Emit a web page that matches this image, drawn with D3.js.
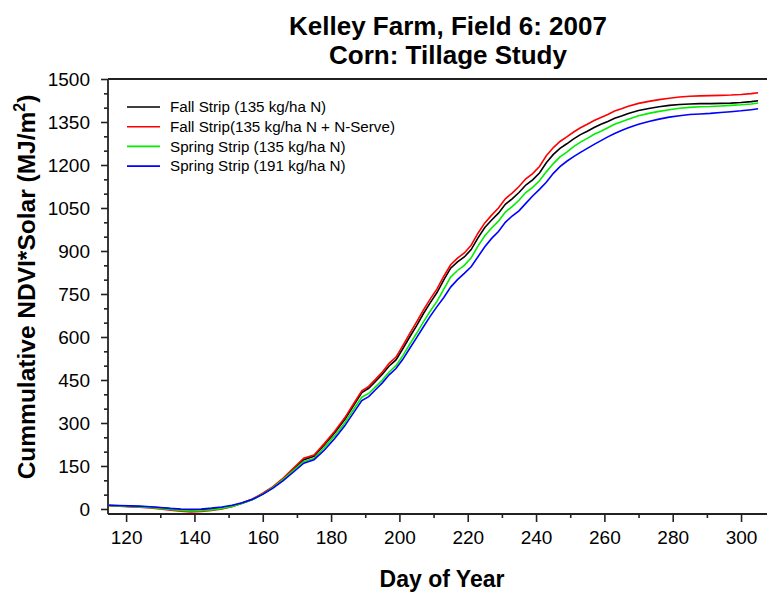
<!DOCTYPE html>
<html>
<head>
<meta charset="utf-8">
<script src="https://cdn.jsdelivr.net/npm/d3@7"></script>
<style>
  body { margin: 0; background: #fff; }
  text { font-family: "Liberation Sans", Arial, sans-serif; fill: #000; }
</style>
</head>
<body>
<div id="chart"></div>
<script>
// day of year for each reading
var days = [115,118,121,124,127,130,133,136,139,142,145,148,151,154,157,160,
	163,166,169,172,175,178,181,184,187,
	189,191,193,195,197,199,201,203,205,207,209,211,213,215,217,219,221,223,225,227,
	229,231,233,235,237,239,241,243,245,247,249,251,253,255,257,259,261,263,265,267,
	270,273,276,279,282,285,288,291,294,297,300,303,305];

var fallStrip = [12,11,9,8,7,4,1,-2,-3,-2,0,4,10,20,33,53,
	76,105,139,172,184,223,265,312,369,
	406,421,445,470,499,520,559,600,639,681,719,755,799,840,862,879,905,946,982,1008,
	1032,1063,1082,1104,1130,1148,1172,1208,1236,1258,1274,1291,1306,1318,1331,1342,1352,1363,1371,1380,
	1390,1397,1403,1408,1411,1413,1414,1414,1415,1416,1418,1421,1424];

var fallStripNServe = [12,10,8,6,4,0,-4,-8,-10,-9,-5,0,8,22,35,55,
	78,108,143,177,188,228,270,318,375,
	412,428,452,478,508,530,570,612,652,694,732,768,812,852,875,893,920,962,998,1025,
	1050,1082,1102,1125,1152,1170,1195,1232,1260,1282,1298,1315,1330,1342,1355,1366,1376,1388,1396,1405,
	1415,1422,1428,1433,1437,1440,1441,1442,1443,1444,1446,1449,1452];

var springStrip135 = [12,11,9,7,5,2,-2,-5,-7,-6,-3,2,9,20,33,52,
	75,103,135,166,176,214,255,300,355,
	390,403,426,450,478,500,535,574,612,652,690,724,767,809,832,850,876,917,953,980,
	1004,1036,1055,1077,1104,1122,1145,1176,1204,1228,1245,1264,1280,1293,1307,1318,1330,1342,1351,1360,
	1372,1380,1387,1393,1398,1401,1403,1404,1406,1408,1410,1413,1416];

var springStrip191 = [13,12,11,10,8,5,2,0,-1,0,3,7,13,22,34,51,
	73,99,129,160,172,205,245,290,343,
	378,392,416,440,468,490,522,560,597,635,672,706,738,774,800,822,845,880,915,944,
	968,1000,1022,1040,1066,1092,1115,1140,1170,1194,1213,1229,1244,1258,1272,1285,1298,1310,1320,1330,
	1342,1352,1360,1367,1372,1376,1378,1380,1383,1386,1389,1393,1396];

var seriesNames = ["Fall Strip (135 kg/ha N)", "Fall Strip(135 kg/ha N + N-Serve)",
	"Spring Strip (135 kg/ha N)", "Spring Strip (191 kg/ha N)"];
var seriesColors = ["#000000", "#ff0000", "#00ee00", "#0000ff"];
var seriesValues = [fallStrip, fallStripNServe, springStrip135, springStrip191];

var xTicks = [120,140,160,180,200,220,240,260,280,300];
var yTicks = [0,150,300,450,600,750,900,1050,1200,1350,1500];

function drawChart() {
	var W = 767, H = 592;
	var left = 108, right = 767, top = 79, bottom = 514;

	var svg = d3.select("#chart").append("svg")
				.attr("width", W)
				.attr("height", H);

	var xScale = d3.scaleLinear().domain([114.7, 307.6]).range([left, right]);
	var yScale = d3.scaleLinear().domain([-17.5, 1500]).range([bottom, top]);

	// titles
	svg.append("text").attr("x", 448).attr("y", 35)
	   .attr("text-anchor", "middle").attr("font-size", 26).attr("font-weight", "bold")
	   .text("Kelley Farm, Field 6: 2007");
	svg.append("text").attr("x", 448).attr("y", 64)
	   .attr("text-anchor", "middle").attr("font-size", 26).attr("font-weight", "bold")
	   .text("Corn: Tillage Study");

	// x axis (major + minor ticks)
	var xAxis = d3.axisBottom(xScale).tickValues(xTicks).tickSize(8).tickPadding(9)
				  .tickFormat(d3.format("d"));
	var xMinor = d3.axisBottom(xScale).tickValues(d3.range(130, 310, 20)).tickSize(4).tickFormat("");

	svg.append("g").attr("class", "axis").attr("transform", "translate(0," + bottom + ")").call(xMinor);
	var gx = svg.append("g").attr("class", "axis").attr("transform", "translate(0," + bottom + ")").call(xAxis);
	gx.selectAll("text").attr("font-size", 19).attr("font-family", "Liberation Sans, Arial, sans-serif");

	// y axis
	var yAxis = d3.axisLeft(yScale).tickValues(yTicks).tickSize(7).tickPadding(11)
				  .tickFormat(d3.format("d"));
	var yMinorVals = d3.range(50, 1500, 50).filter(function(v){ return v % 150 != 0; });
	var yMinor = d3.axisLeft(yScale).tickValues(yMinorVals).tickSize(4).tickFormat("");

	svg.append("g").attr("class", "axis").attr("transform", "translate(" + left + ",0)").call(yMinor);
	var gy = svg.append("g").attr("class", "axis").attr("transform", "translate(" + left + ",0)").call(yAxis);
	gy.selectAll("text").attr("font-size", 19).attr("font-family", "Liberation Sans, Arial, sans-serif");

	svg.selectAll(".axis path, .axis line").attr("stroke", "#222").attr("stroke-width", 1.6);
	svg.selectAll(".axis .domain").remove();

	// frame lines: left, bottom, top
	svg.append("line").attr("x1", left).attr("x2", left).attr("y1", top).attr("y2", bottom)
	   .attr("stroke", "#222").attr("stroke-width", 1.8);
	svg.append("line").attr("x1", left).attr("x2", right).attr("y1", bottom).attr("y2", bottom)
	   .attr("stroke", "#222").attr("stroke-width", 1.8);
	svg.append("line").attr("x1", left).attr("x2", right).attr("y1", top).attr("y2", top)
	   .attr("stroke", "#222").attr("stroke-width", 1.8);

	// axis titles
	svg.append("text").attr("x", 442).attr("y", 587)
	   .attr("text-anchor", "middle").attr("font-size", 23).attr("font-weight", "bold")
	   .text("Day of Year");
	var yt = svg.append("text").attr("transform", "translate(35,287) rotate(-90)")
	   .attr("text-anchor", "middle").attr("font-size", 24.5).attr("font-weight", "bold");
	yt.append("tspan").text("Cummulative NDVI*Solar (MJ/m");
	yt.append("tspan").attr("dy", -10).attr("font-size", 16).text("2");
	yt.append("tspan").attr("dy", 10).text(")");

	// curves
	var line = d3.line()
				 .x(function(d, i){ return xScale(days[i]); })
				 .y(function(d){ return yScale(d); });

	seriesValues.forEach(function(vals, k) {
		svg.append("path")
		   .attr("d", line(vals))
		   .attr("fill", "none")
		   .attr("stroke", seriesColors[k])
		   .attr("stroke-width", 1.6);
	});

	// legend
	var legend = svg.append("g").attr("transform", "translate(127,107)");
	seriesNames.forEach(function(name, k) {
		var g = legend.append("g").attr("transform", "translate(0," + (k * 19.7) + ")");
		g.append("line").attr("x1", 0).attr("x2", 33).attr("y1", 0).attr("y2", 0)
		 .attr("stroke", seriesColors[k]).attr("stroke-width", 1.6);
		g.append("text").attr("x", 43).attr("y", 0).attr("dy", "0.35em")
		 .attr("font-size", 15.2).text(name);
	});
}

drawChart();
</script>
</body>
</html>
